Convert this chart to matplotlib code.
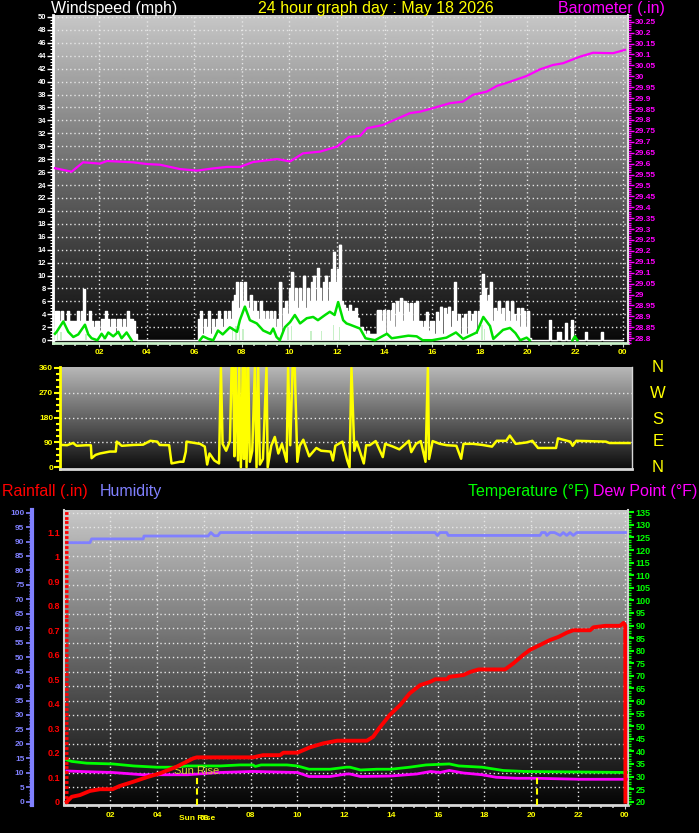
import numpy as np
import matplotlib
matplotlib.use('Agg')
import matplotlib.pyplot as plt
from matplotlib.ticker import MultipleLocator, FuncFormatter

plt.rcParams['font.family'] = ['Liberation Sans', 'DejaVu Sans']

# ---- windspeed (5 minute gusts, one row per hour) ----
gust = [
    0, 0, 4.5, 4.5, 3, 4.5, 3, 3, 4.5, 3, 3, 3,
    3, 4.5, 3, 4.5, 7.9, 3, 3, 4.5, 3, 2, 3, 3,
    1.5, 3.3, 3.3, 4.5, 3.3, 2, 3.3, 3.3, 1, 3.3, 3.3, 2,
    3.3, 2, 4.5, 3.3, 3.3, 3, 1, 0, 0, 0, 0, 0,
    0, 0, 0, 0, 0, 0, 0, 0, 0, 0, 0, 0,
    0, 0, 0, 0, 0, 0, 0, 0, 0, 0, 0, 0,
    0, 0, 3.3, 4.5, 1, 3.3, 2, 4.5, 1, 3.3, 2, 3.3,
    4.5, 3.3, 2, 4.5, 3.3, 4.5, 3.3, 6, 7, 9, 5, 9,
    6, 9, 6, 5, 7, 4.5, 6, 4.5, 3.3, 6, 4.5, 3.3,
    4.5, 3.3, 4.5, 3.3, 4.5, 2, 3.3, 9, 1, 5, 6, 4,
    8, 10.5, 6, 8, 5, 8, 6, 10, 5, 8, 6, 9,
    10, 6, 11.2, 8, 6, 9, 10, 6, 9, 11, 13.7, 9,
    11, 14.8, 6, 5.5, 5, 4.5, 5.5, 4.5, 4.5, 5, 3.5, 2,
    2, 1.5, 1, 1.5, 1, 1, 1, 1, 4.6, 4.6, 3, 4.6,
    1, 4.6, 3, 4.6, 5.7, 2, 6, 4.4, 6.5, 3, 6, 5.7,
    4.4, 5.7, 3, 5.7, 6, 3, 3, 2, 3, 4.4, 1.5, 3,
    3, 1, 4.4, 3, 5.2, 1, 5, 4, 5.2, 2, 4.5, 9.0,
    3, 4, 1, 3.5, 4, 1, 4.5, 3, 4, 4.5, 1, 4.5,
    7, 10.2, 8, 6, 7, 9, 3, 5, 4.5, 6, 4, 5,
    3, 6, 4.5, 3, 6, 4, 3, 5, 2, 5, 4.5, 2,
    4.5, 0.3, 0, 0, 0, 0, 0, 0, 0, 0, 0, 3.1,
    0, 0, 0, 1.2, 1.2, 0, 0, 2.7, 0, 0, 3.1, 0,
    0, 0, 0, 0, 0, 1.2, 0, 0, 0, 0, 0, 0,
    0, 1.2, 0, 0, 0, 0, 0, 0, 0, 0, 0, 0,
]

avg1_hr = [0.15, 0.22, 0.5, 0.71, 0.92, 1.13, 1.41, 1.55, 1.69, 1.93, 2.11, 2.25,
           2.39, 2.6, 2.81, 2.95, 3.16, 3.37]
avg1 = [1.0, 1.3, 2.9, 1.3, 0.5, 0.9, 2.4, 0.9, 0.3, 0, 1.0, 0.3, 1.2, 0.6, 1.3, 0.3, 1.2, 0]
avg2_hr = [6.24, 6.37, 6.6, 6.8, 7.0, 7.2, 7.5, 7.8, 7.92, 8.13, 8.34, 8.63, 8.9, 9.2,
           9.32, 9.46, 9.6, 9.81, 10.03, 10.23, 10.45, 10.73, 11.0, 11.2, 11.5, 11.7,
           11.9, 12.05, 12.26, 12.4, 12.55, 12.97, 13.2, 13.6, 14.1, 14.3, 14.65, 15.0,
           15.35, 15.6, 16.0, 16.6, 17.0, 17.3, 17.87, 18.15, 18.43, 18.57, 18.98,
           19.27, 19.5, 19.7, 19.97, 20.1]
avg2 = [0, 0.6, 0.2, 0, 1.5, 0.9, 2.0, 1.3, 3.1, 5.2, 3.1, 2.6, 1.5, 1.0, 1.8, 0.5, 0,
        2.0, 2.8, 3.9, 2.6, 3.4, 3.6, 3.1, 3.9, 4.4, 3.9, 5.9, 3.1, 2.6, 2.4, 1.8, 0.3,
        0, 1.0, 0.3, 0.5, 0.7, 0.6, 0, 0, 0.4, 1.2, 0.2, 1.2, 3.6, 2.2, 0.2, 1.6, 1.9,
        1.1, 0, 0.4, 0]
avg3_hr = [21.9, 22.0, 22.1]
avg3 = [0, 0.6, 0]

lull_hr = [0.25, 0.4, 1.45, 2.2, 7.6, 7.75, 7.9, 8.05, 9.95, 10.1, 10.9, 11.35, 11.85, 12.1, 18.1, 18.2]
lull = [1.5, 1.3, 1.0, 0.8, 2.0, 2.2, 2.0, 1.8, 2.0, 2.2, 1.5, 1.5, 2.3, 2.0, 2.3, 1.8]

baro_hr = [0.15, 0.85, 1.33, 2.04, 2.34, 3.43, 4.02, 4.56, 5.40, 6.12, 6.79, 7.38, 7.92,
           8.47, 9.48, 10.03, 10.57, 11.29, 12.0, 12.5, 12.97, 13.26, 13.93, 14.35, 15.06,
           15.49, 16.03, 16.75, 17.29, 17.71, 18.30, 18.72, 19.27, 19.98, 20.53, 21.08,
           21.50, 22.21, 22.76, 23.60, 24.10]
baro = [29.579, 29.563, 29.606, 29.600, 29.612, 29.606, 29.598, 29.595, 29.575, 29.568,
        29.578, 29.585, 29.585, 29.607, 29.621, 29.610, 29.647, 29.655, 29.678, 29.722,
        29.727, 29.762, 29.777, 29.797, 29.831, 29.838, 29.854, 29.877, 29.884, 29.915,
        29.930, 29.956, 29.975, 30.002, 30.032, 30.052, 30.060, 30.090, 30.108, 30.106,
        30.121]

# ---- wind direction ----
dir_hr = [0.07, 0.3, 0.55, 0.7, 1.1, 1.3, 1.33, 1.5, 1.68, 2.1,
          2.35, 2.39, 2.6, 3.1, 3.5, 3.8, 4.1, 4.2, 4.6, 4.7,
          5.05, 5.2, 5.3, 5.33, 5.9, 6.1, 6.2, 6.3, 6.5, 6.7,
          6.78, 6.85, 7.0, 7.16, 7.23, 7.3, 7.35, 7.4, 7.5, 7.55,
          7.62, 7.7, 7.75, 7.8, 7.86, 7.93, 8.0, 8.1, 8.21, 8.28,
          8.35, 8.42, 8.55, 8.7, 8.75, 8.9, 9.05, 9.2, 9.35, 9.55,
          9.61, 9.7, 9.8, 9.89, 10.0, 10.1, 10.25, 10.5, 10.8, 11.0,
          11.4, 11.5, 11.6, 11.9, 12.1, 12.2, 12.28, 12.4, 12.5, 12.8,
          12.9, 13.05, 13.3, 13.6, 13.7, 14.0, 14.3, 14.7, 14.8, 15.0,
          15.2, 15.4, 15.5, 15.55, 15.7, 16.0, 16.3, 16.7, 16.9, 17.0,
          17.4, 17.8, 18.2, 18.4, 18.8, 18.95, 19.2, 19.65, 19.9, 20.0,
          20.14, 20.9, 20.98, 21.5, 21.6, 21.75, 23.0, 23.15, 24.0]
dir_deg = [81, 80, 88, 78, 80, 80, 33, 45, 50, 57,
           57, 93, 78, 81, 82, 96, 93, 81, 80, 14,
           20, 20, 57, 93, 85, 75, 10, 50, 25, 14,
           360, 85, 60, 96, 360, 360, 40, 360, 25, 360,
           0, 360, 30, 360, 0, 360, 20, 60, 360, 0,
           360, 10, 30, 360, 0, 78, 110, 50, 85, 20,
           360, 80, 360, 360, 20, 78, 100, 40, 70, 60,
           57, 25, 78, 93, 25, 0, 360, 60, 93, 14,
           80, 80, 95, 37, 85, 76, 65, 96, 55, 85,
           95, 20, 360, 30, 95, 85, 80, 78, 31, 85,
           85, 81, 75, 96, 96, 115, 85, 90, 96, 85,
           70, 70, 105, 93, 78, 96, 93, 88, 88]

# ---- rain / humidity / temperature / dew point ----
rain_hr = [0.14, 0.35, 0.7, 1.13, 1.56, 2.1, 2.4, 3.0, 3.56, 4.13, 4.84, 5.55, 5.7, 8.1,
           8.53, 9.26, 9.4, 10.0, 10.54, 11.1, 11.7, 12.97, 13.24, 13.5, 13.95, 14.4,
           14.8, 15.25, 15.7, 15.9, 16.4, 16.5, 17.1, 17.4, 17.75, 18.88, 19.24, 19.67,
           19.95, 20.38, 20.8, 21.17, 21.52, 21.8, 22.52, 22.66, 23.16, 23.8, 23.95,
           24.02, 24.03]
rain = [0, 0.02, 0.027, 0.044, 0.051, 0.051, 0.064, 0.082, 0.1, 0.116, 0.143, 0.177,
        0.181, 0.181, 0.19, 0.19, 0.2, 0.2, 0.222, 0.238, 0.249, 0.249, 0.265, 0.3,
        0.354, 0.395, 0.442, 0.476, 0.49, 0.5, 0.5, 0.51, 0.517, 0.53, 0.54, 0.54,
        0.565, 0.6, 0.62, 0.64, 0.66, 0.673, 0.69, 0.70, 0.70, 0.712, 0.718, 0.718,
        0.73, 0.72, 0]

hum_hr = [0.14, 1.13, 1.2, 3.41, 3.44, 6.18, 6.3, 6.45, 6.6, 6.7, 15.89, 15.99, 16.1,
          16.39, 16.45, 20.38, 20.45, 20.6, 20.67, 20.81, 21.0, 21.24, 21.37, 21.52,
          21.66, 21.8, 21.95, 22.09, 24.1]
hum = [89.6, 89.6, 90.9, 90.9, 91.9, 91.9, 93.1, 92.0, 92.0, 93.1, 93.1, 92.1, 93.1,
       93.1, 92.1, 92.1, 93.1, 93.1, 92.1, 93.1, 93.1, 92.1, 93.1, 92.1, 93.1, 92.1,
       93.1, 93.1, 93.1]

temp_hr = [0.14, 0.35, 0.99, 2.1, 3.0, 4.0, 4.7, 5.3, 6.7, 7.55, 8.1, 8.2, 8.45, 9.55,
           10.0, 10.5, 11.4, 12.1, 12.25, 12.7, 13.4, 14.0, 14.8, 15.5, 16.5, 16.9,
           17.9, 18.8, 19.7, 24.1]
temp = [36.6, 36.0, 35.3, 35.0, 34.2, 33.7, 33.7, 34.2, 34.2, 34.6, 34.6, 34.0, 34.6,
        34.6, 34.2, 32.9, 32.9, 33.7, 33.7, 32.6, 32.9, 32.9, 33.7, 34.6, 35.0, 34.2,
        33.7, 32.4, 32.0, 31.6]

dew_hr = [0.14, 0.7, 2.1, 3.4, 5.3, 6.7, 8.1, 10.0, 10.5, 11.4, 12.1, 12.25, 12.7, 14.0,
          15.1, 15.7, 16.1, 16.5, 17.1, 17.9, 18.5, 19.4, 20.2, 22.1, 24.1]
dew = [32.2, 32.0, 31.6, 30.7, 30.7, 31.6, 32.0, 31.6, 30.0, 30.0, 31.0, 31.0, 30.0,
       30.2, 31.0, 32.0, 31.6, 32.4, 31.4, 30.7, 29.7, 29.3, 29.3, 28.9, 28.9]

sun_hr = [5.7, 20.24]

hour_ticks = [2, 4, 6, 8, 10, 12, 14, 16, 18, 20, 22, 24]
hour_labels = ['02', '04', '', '08', '10', '12', '14', '16', '18', '20', '22', '00']

YEL = '#ffff00'
MAG = '#ff00ff'
GRN = '#00ff00'
BLU = '#8080ff'
RED = '#ff0000'
GRID = dict(color='#e6e6e6', linestyle=(0, (1, 2)), linewidth=1)


def shade(ax, top, bottom):
    x0, x1 = ax.get_xlim()
    y0, y1 = ax.get_ylim()
    g = np.linspace(top, bottom, 256).reshape(-1, 1)
    ax.imshow(g, cmap='gray', vmin=0, vmax=1, aspect='auto', origin='upper',
              extent=(x0, x1, y0, y1), zorder=0)
    ax.set_xlim(x0, x1)
    ax.set_ylim(y0, y1)


def fx(px):
    return px / 699


def fy(py):
    return 1 - py / 833


fig = plt.figure(figsize=(6.99, 8.33), dpi=100, facecolor='black')

# ================= top panel: windspeed + barometer =================
ax1 = fig.add_axes([fx(53), fy(343), 575 / 699, 328 / 833])
ax1.set_xlim(0.067, 24.23)
ax1.set_ylim(-0.43, 50.3)
shade(ax1, 0.78, 0.03)
for y in range(2, 51, 2):
    ax1.axhline(y, zorder=1, **GRID)
for h in hour_ticks:
    ax1.axvline(h, zorder=1, **GRID)

ghr = np.arange(len(gust) + 1) / 12
gv = gust + [gust[-1]]
ax1.fill_between(ghr, gv, step='post', color='white', lw=0.5, edgecolor='white', zorder=2)
ax1.step(ghr, gv, where='post', color='white', lw=1, zorder=2)
ax1.bar(lull_hr, lull, width=0.06, color='#c8f0c8', lw=0, zorder=3)
for hh, vv in [(avg1_hr, avg1), (avg2_hr, avg2), (avg3_hr, avg3)]:
    ax1.plot(hh, vv, color='#00e000', lw=1.8, zorder=4)

ax1.yaxis.set_major_locator(MultipleLocator(2))
ax1.yaxis.set_minor_locator(MultipleLocator(0.5))
ax1.tick_params(axis='y', which='major', colors='white', labelsize=5.5, length=4, width=1, pad=1)
ax1.tick_params(axis='y', which='minor', colors='white', length=2, width=0.8)
ax1.set_xticks(hour_ticks)
ax1.set_xticklabels(hour_labels[:2] + ['06'] + hour_labels[3:])
ax1.xaxis.set_minor_locator(MultipleLocator(0.5))
ax1.tick_params(axis='x', which='major', colors='#d0d0d0', labelcolor=YEL, labelsize=6, length=3, pad=1.5)
ax1.tick_params(axis='x', which='minor', colors='#c0c0c0', length=2, width=1.2)
ax1.spines['left'].set_color('white')
ax1.spines['left'].set_linewidth(2)
ax1.spines['bottom'].set_color('#c8f0c8')
ax1.spines['bottom'].set_linewidth(2)
ax1.spines['top'].set_visible(False)
ax1.spines['right'].set_visible(False)

ax1b = ax1.twinx()
ax1b.set_ylim(28.778, 30.281)
ax1b.plot(baro_hr, baro, color=MAG, lw=1.6, zorder=5)
ax1b.yaxis.set_major_locator(MultipleLocator(0.05))
ax1b.yaxis.set_minor_locator(MultipleLocator(0.01))
ax1b.yaxis.set_major_formatter(FuncFormatter(lambda v, p: '%g' % round(v, 2)))
ax1b.tick_params(axis='y', which='major', colors=MAG, labelsize=6, length=4, width=1, pad=1)
ax1b.tick_params(axis='y', which='minor', colors=MAG, length=2.5, width=1)
ax1b.spines['right'].set_color('#e0e0e0')
ax1b.spines['right'].set_linewidth(1.5)
for s in ['left', 'top', 'bottom']:
    ax1b.spines[s].set_visible(False)

fig.text(fx(51), fy(8), 'Windspeed (mph)', color='white', fontsize=11.5, va='center', ha='left')
fig.text(fx(258), fy(8), '24 hour graph day : May 18 2026', color=YEL, fontsize=11.5, va='center', ha='left')
fig.text(fx(558), fy(8), 'Barometer (.in)', color=MAG, fontsize=11.5, va='center', ha='left')

# ================= middle panel: wind direction =================
ax2 = fig.add_axes([fx(60), fy(469), 572 / 699, 102 / 833])
ax2.set_xlim(0, 24.1)
ax2.set_ylim(-6.2, 363.6)
shade(ax2, 0.72, 0.05)
for y in [90, 180, 270]:
    ax2.axhline(y, zorder=1, **GRID)
ax2.plot(dir_hr, dir_deg, color=YEL, lw=1.8, zorder=3)
ax2.set_yticks([0, 90, 180, 270, 360])
ax2.yaxis.set_minor_locator(MultipleLocator(22.5))
ax2.tick_params(axis='y', which='major', colors=YEL, labelsize=6, length=4, width=1.5, pad=1)
ax2.tick_params(axis='y', which='minor', colors=YEL, length=3, width=1.5)
ax2.set_xticks([])
ax2.spines['left'].set_color(YEL)
ax2.spines['left'].set_linewidth(2)
ax2.spines['bottom'].set_color('#d8d8d8')
ax2.spines['bottom'].set_linewidth(2)
ax2.spines['right'].set_color('#d8d8d8')
ax2.spines['right'].set_linewidth(1)
ax2.spines['top'].set_visible(False)

for lbl, py in zip(['N', 'W', 'S', 'E', 'N'], [367, 393, 420, 442, 467]):
    fig.text(fx(658), fy(py), lbl, color=YEL, fontsize=12, ha='center', va='center')

# ================= bottom panel: rain, humidity, temp, dew =================
fig.text(fx(2), fy(491), 'Rainfall (.in)', color=RED, fontsize=11.5, va='center', ha='left')
fig.text(fx(100), fy(491), 'Humidity', color=BLU, fontsize=11.5, va='center', ha='left')
fig.text(fx(468), fy(491), 'Temperature (°F)', color=GRN, fontsize=11.5, va='center', ha='left')
fig.text(fx(593), fy(491), 'Dew Point (°F)', color=MAG, fontsize=11.5, va='center', ha='left')

ax3 = fig.add_axes([fx(64), fy(805), 564 / 699, 295 / 833])
ax3.set_xlim(0.02, 24.14)
ax3.set_ylim(-1.14, 100.9)
shade(ax3, 0.78, 0.02)
for y in range(5, 101, 5):
    ax3.axhline(y, zorder=1, **GRID)
for h in hour_ticks:
    ax3.axvline(h, zorder=1, **GRID)
ax3.plot(hum_hr, hum, color=BLU, lw=2, zorder=3)
ax3.yaxis.set_major_locator(MultipleLocator(5))
ax3.yaxis.set_minor_locator(MultipleLocator(1))
ax3.spines['left'].set_position(('outward', 23))
ax3.spines['left'].set_color(BLU)
ax3.spines['left'].set_linewidth(3)
ax3.tick_params(axis='y', which='major', colors=BLU, labelsize=6, length=4, width=1.2, pad=1.5)
ax3.tick_params(axis='y', which='minor', colors=BLU, length=2.5, width=1)
ax3.set_xticks(hour_ticks)
ax3.set_xticklabels(hour_labels)
ax3.xaxis.set_minor_locator(MultipleLocator(0.5))
ax3.tick_params(axis='x', which='major', colors='#d0d0d0', labelcolor=YEL, labelsize=6, length=3, pad=2)
ax3.tick_params(axis='x', which='minor', colors='#c0c0c0', length=2, width=1.2)
ax3.spines['bottom'].set_color('#d8d8d8')
ax3.spines['bottom'].set_linewidth(2)
ax3.spines['top'].set_visible(False)
ax3.spines['right'].set_visible(False)
# the reference prints "Sun Rise" right over the 06 hour label
ax3.text(6, -0.035, '06', transform=ax3.get_xaxis_transform(), color=YEL, fontsize=6,
         ha='center', va='top', fontweight='bold')
ax3.text(sun_hr[0], -0.035, 'Sun Rise', transform=ax3.get_xaxis_transform(), color=YEL,
         fontsize=6, ha='center', va='top', fontweight='bold')

ax3t = ax3.twinx()
ax3t.set_ylim(18.68, 135.9)
ax3t.plot(temp_hr, temp, color=GRN, lw=2, zorder=3)
ax3t.plot(dew_hr, dew, color=MAG, lw=2, zorder=3)
ax3t.yaxis.set_major_locator(MultipleLocator(5))
ax3t.yaxis.set_minor_locator(MultipleLocator(1))
ax3t.tick_params(axis='y', which='major', colors=GRN, labelsize=6.5, length=4, width=1.5, pad=1.5)
ax3t.tick_params(axis='y', which='minor', colors=GRN, length=2.5, width=1)
ax3t.spines['right'].set_color('#d0d0d0')
ax3t.spines['right'].set_linewidth(1.5)
for s in ['left', 'top', 'bottom']:
    ax3t.spines[s].set_visible(False)

ax3r = ax3.twinx()
ax3r.set_ylim(-0.0135, 1.191)
ax3r.yaxis.tick_left()
ax3r.plot(rain_hr, rain, color=RED, lw=2.8, zorder=5)
ax3r.vlines(sun_hr, -0.0135, 0.109, color=YEL, linestyle=(0, (3, 2)), lw=1.5, zorder=4)
ax3r.text(sun_hr[0], 0.125, 'Sun Rise', color='#d8d830', fontsize=8, ha='center', va='center', zorder=4)
ax3r.yaxis.set_major_locator(MultipleLocator(0.1))
ax3r.yaxis.set_minor_locator(MultipleLocator(0.02))
ax3r.yaxis.set_major_formatter(FuncFormatter(lambda v, p: '%g' % round(v, 2)))
ax3r.tick_params(axis='y', which='major', colors=RED, labelsize=6.5, length=3, width=2,
                 direction='in', pad=3)
ax3r.tick_params(axis='y', which='minor', colors=RED, length=3, width=2, direction='in')
ax3r.spines['left'].set_color('#d0d0d0')
ax3r.spines['left'].set_linewidth(1.5)
for s in ['right', 'top', 'bottom']:
    ax3r.spines[s].set_visible(False)

for a in [ax1, ax1b, ax2, ax3, ax3t, ax3r]:
    plt.setp(a.get_yticklabels(), fontweight='bold')
for a in [ax1, ax3]:
    plt.setp(a.get_xticklabels(), fontweight='bold')

fig.savefig('out.png', dpi=100, facecolor='black')
